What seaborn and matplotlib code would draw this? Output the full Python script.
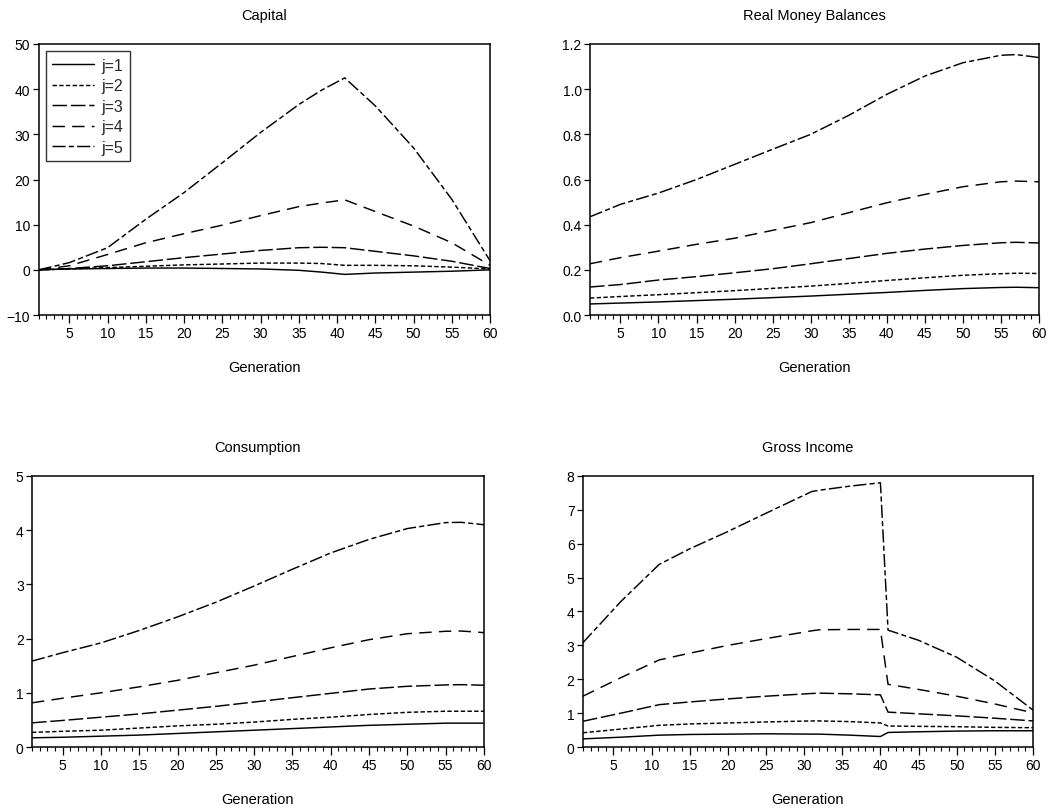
import numpy as np
import pandas as pd
import matplotlib
matplotlib.use("Agg")
import matplotlib.pyplot as plt
from matplotlib.ticker import MultipleLocator, FormatStrFormatter
import seaborn as sns

sns.set_theme(style="white")
plt.rcParams["font.family"] = ["Liberation Sans", "DejaVu Sans"]

labels = ["j=1", "j=2", "j=3", "j=4", "j=5"]

# Capital
cap_gen = [1, 5, 10, 15, 20, 25, 30, 35, 38, 41, 45, 50, 55, 60]
cap_j1 = [0, 0.2, 0.3, 0.4, 0.4, 0.3, 0.2, -0.1, -0.5, -1.0, -0.7, -0.5, -0.3, 0]
cap_j2 = [0, 0.2, 0.5, 0.8, 1.1, 1.3, 1.5, 1.5, 1.4, 1.0, 1.0, 0.9, 0.6, 0.2]
cap_j3 = [0, 0.3, 0.9, 1.8, 2.7, 3.5, 4.3, 4.9, 5.0, 4.9, 4.1, 3.1, 1.9, 0.3]
cap_j4 = [0, 0.9, 3.4, 6.0, 8.0, 9.9, 12.0, 14.0, 14.8, 15.5, 12.9, 9.7, 6.0, 1.0]
cap_j5 = [0, 1.6, 4.9, 11.2, 17.1, 23.7, 30.4, 36.6, 39.8, 42.5, 36.3, 27.0, 15.6, 2.0]

# Real money balances
rmb_gen = [1, 5, 10, 15, 20, 25, 30, 35, 40, 45, 50, 55, 57, 60]
rmb_j1 = [0.049, 0.053, 0.058, 0.064, 0.070, 0.077, 0.084, 0.092, 0.100, 0.109, 0.117, 0.122, 0.123, 0.121]
rmb_j2 = [0.075, 0.082, 0.090, 0.099, 0.108, 0.118, 0.128, 0.140, 0.153, 0.165, 0.176, 0.183, 0.185, 0.184]
rmb_j3 = [0.124, 0.135, 0.155, 0.170, 0.187, 0.205, 0.227, 0.250, 0.273, 0.292, 0.308, 0.320, 0.322, 0.319]
rmb_j4 = [0.227, 0.254, 0.283, 0.313, 0.340, 0.375, 0.409, 0.453, 0.497, 0.534, 0.568, 0.590, 0.593, 0.590]
rmb_j5 = [0.435, 0.490, 0.540, 0.600, 0.667, 0.734, 0.800, 0.884, 0.977, 1.058, 1.117, 1.150, 1.153, 1.140]

# Consumption
con_gen = [1, 5, 10, 15, 20, 25, 30, 35, 40, 45, 50, 55, 57, 60]
con_j1 = [0.17, 0.18, 0.20, 0.22, 0.25, 0.28, 0.31, 0.34, 0.37, 0.40, 0.42, 0.44, 0.44, 0.44]
con_j2 = [0.27, 0.29, 0.31, 0.35, 0.39, 0.42, 0.46, 0.51, 0.55, 0.60, 0.64, 0.66, 0.66, 0.66]
con_j3 = [0.446, 0.49, 0.55, 0.61, 0.68, 0.75, 0.83, 0.91, 0.99, 1.07, 1.12, 1.145, 1.15, 1.14]
con_j4 = [0.815, 0.90, 1.00, 1.11, 1.23, 1.37, 1.51, 1.67, 1.83, 1.98, 2.09, 2.135, 2.14, 2.11]
con_j5 = [1.585, 1.74, 1.92, 2.15, 2.40, 2.67, 2.97, 3.28, 3.58, 3.83, 4.03, 4.14, 4.145, 4.10]

# Gross income
inc_gen = [1, 6, 11, 15, 20, 25, 31, 32, 36, 40, 41, 45, 50, 55, 60]
inc_j1 = [0.24, 0.29, 0.35, 0.37, 0.38, 0.39, 0.38, 0.38, 0.35, 0.31, 0.43, 0.45, 0.47, 0.48, 0.48]
inc_j2 = [0.42, 0.53, 0.64, 0.68, 0.71, 0.74, 0.77, 0.77, 0.75, 0.71, 0.62, 0.61, 0.60, 0.58, 0.57]
inc_j3 = [0.76, 1.00, 1.25, 1.33, 1.42, 1.50, 1.58, 1.59, 1.57, 1.54, 1.03, 0.98, 0.92, 0.85, 0.77]
inc_j4 = [1.50, 2.05, 2.57, 2.77, 3.00, 3.20, 3.43, 3.46, 3.47, 3.47, 1.85, 1.70, 1.50, 1.27, 1.01]
inc_j5 = [3.08, 4.30, 5.39, 5.85, 6.36, 6.90, 7.54, 7.58, 7.70, 7.80, 3.45, 3.15, 2.65, 1.95, 1.09]

panels = [
    ("Capital", cap_gen, [cap_j1, cap_j2, cap_j3, cap_j4, cap_j5]),
    ("Real Money Balances", rmb_gen, [rmb_j1, rmb_j2, rmb_j3, rmb_j4, rmb_j5]),
    ("Consumption", con_gen, [con_j1, con_j2, con_j3, con_j4, con_j5]),
    ("Gross Income", inc_gen, [inc_j1, inc_j2, inc_j3, inc_j4, inc_j5]),
]

dash_styles = ["", (3, 1.6), (10, 2.6), (8.5, 5), (9, 2.2, 3.5, 2.2)]

positions = [
    [0.0366, 0.6108, 0.4275, 0.3338],
    [0.5587, 0.6108, 0.4252, 0.3338],
    [0.0303, 0.0788, 0.4280, 0.3338],
    [0.5520, 0.0788, 0.4262, 0.3338],
]
ylims = [(-10, 50), (0, 1.2), (0, 5), (0, 8)]
ysteps = [10, 0.2, 1, 1]

fig = plt.figure(figsize=(10.56, 8.12), dpi=100)

for i, (title, gen, series) in enumerate(panels):
    ax = fig.add_axes(positions[i])
    frames = [pd.DataFrame({"Generation": gen, "value": vals, "j": lab})
              for lab, vals in zip(labels, series)]
    df = pd.concat(frames, ignore_index=True)
    sns.lineplot(data=df, x="Generation", y="value", hue="j", style="j",
                 palette=["black"] * 5, dashes=dash_styles, linewidth=1.05,
                 estimator=None, sort=False, legend=False, ax=ax)

    ax.set_xlim(1, 60)
    ax.set_ylim(*ylims[i])
    ax.xaxis.set_major_locator(MultipleLocator(5))
    ax.xaxis.set_minor_locator(MultipleLocator(1))
    ax.yaxis.set_major_locator(MultipleLocator(ysteps[i]))
    if i == 1:
        ax.yaxis.set_major_formatter(FormatStrFormatter("%.1f"))
    ax.set_xticks([t for t in range(5, 61, 5)])

    ax.tick_params(axis="both", which="major", direction="out", length=4,
                   width=0.9, color="black", labelsize=10, labelcolor="black",
                   pad=2)
    ax.tick_params(axis="x", which="major", length=6)
    ax.tick_params(axis="x", which="minor", direction="out", length=3,
                   width=0.8, color="black", bottom=True)
    ax.tick_params(left=True, bottom=True, top=False, right=False)

    for sp in ax.spines.values():
        sp.set_color("black")
        sp.set_linewidth(1.1)

    ax.set_title(title, fontsize=10.5, color="black", pad=18)
    ax.set_xlabel("Generation", fontsize=10.5, color="black", labelpad=14)
    ax.set_ylabel("")

    if i == 0:
        leg = ax.legend(ax.get_lines()[:5], labels, loc="upper left",
                        fontsize=11.5, frameon=True, fancybox=False,
                        edgecolor="black", handlelength=2.6,
                        labelspacing=0.35, borderpad=0.4,
                        handletextpad=0.5, borderaxespad=0.45)
        leg.get_frame().set_linewidth(1.0)

fig.savefig("out.png", dpi=100, facecolor="white")
